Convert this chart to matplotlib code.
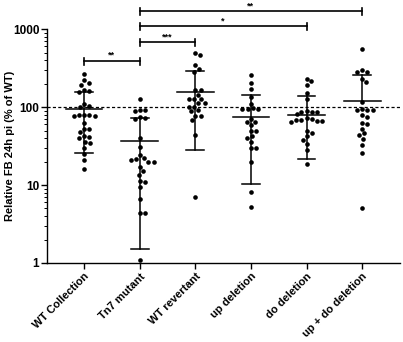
import numpy as np
import matplotlib.pyplot as plt
from matplotlib.ticker import FixedLocator, FuncFormatter, LogLocator, NullFormatter

GROUPS = ["WT Collection", "Tn7 mutant", "WT revertant",
          "up deletion", "do deletion", "up + do deletion"]

WT_COLLECTION = [265, 220, 205, 193, 165, 160, 155, 108, 103, 99, 80, 78, 78,
                 77, 76, 63, 53, 52, 48, 42, 41, 40, 36, 35, 30, 25, 21, 16]
TN7_MUTANT = [128, 93, 91, 89, 74, 72, 70, 40, 31, 24, 22, 21.5, 21, 20, 20,
              17, 15, 13.3, 11.3, 11, 9.5, 6.7, 4.4, 4.4, 1.1]
WT_REVERTANT = [497, 460, 343, 304, 281, 165, 165, 144, 128, 128, 128, 113,
                113, 101, 101, 93, 88, 77, 77, 68, 44, 7]
UP_DELETION = [259, 201, 172, 133, 111, 96, 95, 95, 94, 71, 65, 65, 59, 49,
               49, 42, 40, 36, 30, 30, 20, 8.1, 5.3]
DO_DELETION = [226, 213, 189, 153, 128, 90, 87, 86, 87, 81, 72, 69, 67, 65,
               66, 68, 70, 49, 47, 42, 38, 34, 28, 18.6]
UP_DO_DELETION = [558, 300, 281, 279, 229, 208, 116, 94, 93, 92, 93, 78, 74,
                  63, 60, 53, 46, 44, 39, 33, 26, 5]

MEANS = [95, 37, 156, 75, 80, 120]
BAR_HIGH = [157, 73, 292, 142, 138, 255]
BAR_LOW = [26, 1.51, 28, 10.2, 21.5, np.nan]

COMPARISONS = [(0, 1, "**"), (1, 2, "***"), (1, 4, "*"), (1, 5, "**")]
REFERENCE_LEVEL = 100

# layout
BRACKET_Y = [389, 681, 1092, 1700]
FONT = ["Liberation Sans", "DejaVu Sans"]


def swarm(values, px_decade=78.0, px_unit=55.6, d=5.3):
    """simple beeswarm: returns x offsets in data units"""
    ys = np.log10(values) * px_decade
    order = np.argsort(-ys, kind="stable")
    placed = []
    offs = np.zeros(len(values))
    for i in order:
        y = ys[i]
        cands = [0.0]
        for px, py in placed:
            dy = abs(y - py)
            if dy < d:
                dx = np.sqrt(d * d - dy * dy)
                cands += [px + dx, px - dx]
        cands.sort(key=lambda c: (round(abs(c), 6), -c))
        for c in cands:
            if all((c - px) ** 2 + (y - py) ** 2 >= d * d - 1e-6 for px, py in placed):
                break
        placed.append((c, y))
        offs[i] = c / px_unit
    return offs


plt.rcParams["font.family"] = FONT
plt.rcParams["font.weight"] = "bold"

fig = plt.figure(figsize=(4.03, 3.42), dpi=100)
ax = fig.add_axes([0.1166, 0.231, 0.876, 0.684])
ax.set_yscale("log")
ax.set_ylim(1, 1000)
ax.set_xlim(-0.665, 5.68)

data = [WT_COLLECTION, TN7_MUTANT, WT_REVERTANT, UP_DELETION, DO_DELETION, UP_DO_DELETION]
for i, vals in enumerate(data):
    vals = np.array(vals, dtype=float)
    ax.scatter(i + swarm(vals), vals, s=11, color="black", linewidths=0, zorder=3)
    # mean line
    ax.plot([i - 0.33, i + 0.33], [MEANS[i], MEANS[i]], color="black", lw=1.1, zorder=4)
    lo = BAR_LOW[i] if not np.isnan(BAR_LOW[i]) else MEANS[i]
    ax.plot([i, i], [lo, BAR_HIGH[i]], color="black", lw=1.1, zorder=4)
    ax.plot([i - 0.16, i + 0.16], [BAR_HIGH[i], BAR_HIGH[i]], color="black", lw=1.1, zorder=4)
    if not np.isnan(BAR_LOW[i]):
        ax.plot([i - 0.16, i + 0.16], [BAR_LOW[i], BAR_LOW[i]], color="black", lw=1.1, zorder=4)

ax.axhline(REFERENCE_LEVEL, color="black", lw=0.9, ls=(0, (2.5, 1.8)), zorder=2)

cap = 10 ** 0.045
for (a, b, label), y in zip(COMPARISONS, BRACKET_Y):
    ax.plot([a, b], [y, y], color="black", lw=1.2, clip_on=False)
    for xx in (a, b):
        ax.plot([xx, xx], [y / cap, y * cap], color="black", lw=1.2, clip_on=False)
    ax.text((a + b) / 2, y * 1.03, label, ha="center", va="bottom",
            fontsize=6.5, fontweight="bold", clip_on=False)

for s in ("top", "right"):
    ax.spines[s].set_visible(False)
for s in ("left", "bottom"):
    ax.spines[s].set_linewidth(1.0)

ax.yaxis.set_major_locator(FixedLocator([1, 10, 100, 1000]))
ax.yaxis.set_major_formatter(FuncFormatter(lambda v, p: f"{v:g}"))
ax.yaxis.set_minor_locator(LogLocator(base=10, subs=np.arange(2, 10)))
ax.yaxis.set_minor_formatter(NullFormatter())
ax.tick_params(axis="y", which="major", length=4, width=1.0, labelsize=8.5, pad=1.5)
ax.tick_params(axis="y", which="minor", length=2, width=0.7)

ax.set_xticks(range(len(GROUPS)))
ax.set_xticklabels(GROUPS, rotation=45, ha="right", va="top",
                   rotation_mode="anchor", fontsize=8, fontweight="bold")
ax.tick_params(axis="x", length=4, width=1.0, pad=2)

ax.set_ylabel("Relative FB 24h pi (% of WT)", fontsize=8, fontweight="bold")
ax.yaxis.set_label_coords(-0.09, 0.5)

fig.savefig("out.png", dpi=100)
